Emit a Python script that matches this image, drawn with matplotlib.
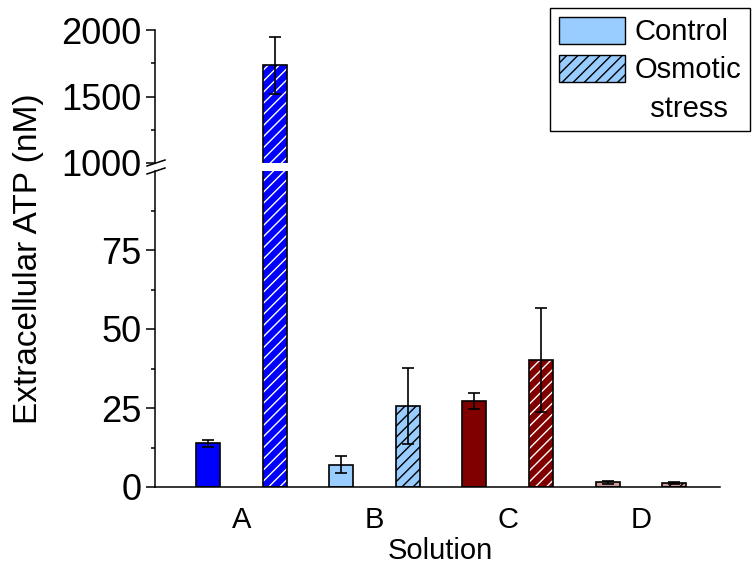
import numpy as np
import matplotlib.pyplot as plt
from matplotlib.patches import Patch
from matplotlib.lines import Line2D
from matplotlib.ticker import FixedLocator

plt.rcParams['font.family'] = ['Liberation Sans', 'DejaVu Sans']
plt.rcParams['hatch.linewidth'] = 1.0

# extracellular ATP (nM), mean and error per solution
solutions = ['A', 'B', 'C', 'D']
control_mean = [13.8, 7.1, 27.2, 1.5]
control_err = [1.2, 2.8, 2.6, 0.4]
stress_mean = [1735, 25.6, 40.1, 1.3]
stress_err = [213, 12.0, 16.5, 0.4]
bar_colors = ['#0000FF', '#99CCFF', '#800000', '#CC9999']
hatch_colors = ['white', 'black', 'white', 'black']

W, H = 752, 567
fig = plt.figure(figsize=(W / 100, H / 100), dpi=100)


def fx(px):
    return px / W


def fy(py):
    return 1 - py / H


ax_lo = fig.add_axes([fx(155), fy(487), fx(720) - fx(155), fy(171) - fy(487)])
ax_hi = fig.add_axes([fx(155), fy(163), fx(720) - fx(155), fy(30) - fy(163)], sharex=ax_lo)

width = 0.36
lw = 1.2


def draw_bar(ax, x, h, err, color, hcolor, hatched):
    if hatched:
        ax.bar(x, h, width, color=color, edgecolor=hcolor, hatch='///', linewidth=0)
        ax.bar(x, h, width, fill=False, edgecolor='k', linewidth=lw)
    else:
        ax.bar(x, h, width, color=color, edgecolor='k', linewidth=lw)
    ax.errorbar(x, h, yerr=err, fmt='none', ecolor='k', elinewidth=lw,
                capsize=4.5, capthick=lw, zorder=5)


for ax in (ax_lo, ax_hi):
    for i in range(len(solutions)):
        draw_bar(ax, 2 * i, control_mean[i], control_err[i], bar_colors[i], 'k', False)
        draw_bar(ax, 2 * i + 1, stress_mean[i], stress_err[i], bar_colors[i],
                 hatch_colors[i], True)
    for s in ('top', 'right'):
        ax.spines[s].set_visible(False)
    ax.spines['left'].set_linewidth(1.1)
    ax.spines['bottom'].set_linewidth(1.1)
    ax.tick_params(axis='y', which='major', direction='out', length=6.5, width=1.1,
                   labelsize=26, pad=3)
    ax.tick_params(axis='y', which='minor', direction='out', length=3, width=1.1)

ax_lo.set_xlim(-0.8, 7.69)
ax_lo.set_ylim(0, 100)
ax_lo.set_yticks([0, 25, 50, 75])
ax_lo.yaxis.set_minor_locator(FixedLocator([12.5, 37.5, 62.5, 87.5]))
ax_lo.set_xticks([2 * i + 0.5 for i in range(len(solutions))])
ax_lo.set_xticklabels(solutions)
ax_lo.tick_params(axis='x', length=0, labelsize=21, pad=14)

ax_hi.set_ylim(1000, 2000)
ax_hi.set_yticks([1000, 1500, 2000])
ax_hi.yaxis.set_minor_locator(FixedLocator([1250, 1750]))
ax_hi.spines['bottom'].set_visible(False)
ax_hi.xaxis.set_visible(False)
ax_hi.patch.set_alpha(0)

# axis break marks
for yb in (163, 171):
    fig.add_artist(Line2D([fx(147), fx(165)], [fy(yb + 3), fy(yb - 3)],
                          color='k', lw=1.1))

fig.text(fx(29), fy(259), 'Extracellular ATP (nM)', rotation=90,
         ha='center', va='center', fontsize=24)
fig.text(fx(440), fy(559), 'Solution', ha='center', va='baseline', fontsize=21)

handles = [
    Patch(facecolor='#99CCFF', edgecolor='k', label='Control'),
    Patch(facecolor='#99CCFF', edgecolor='k', hatch='///', label='Osmotic'),
    Patch(facecolor='none', edgecolor='none', label='  stress'),
]
leg = fig.legend(handles=handles, loc='upper right', bbox_to_anchor=(fx(750), fy(8)),
                 frameon=True, fancybox=False, edgecolor='k', framealpha=1,
                 fontsize=21, handlelength=2.25, handleheight=1.05, handletextpad=0.34,
                 labelspacing=0.3, borderpad=0.3, borderaxespad=0)
leg.get_frame().set_linewidth(1.0)

fig.savefig('out.png', dpi=100)
